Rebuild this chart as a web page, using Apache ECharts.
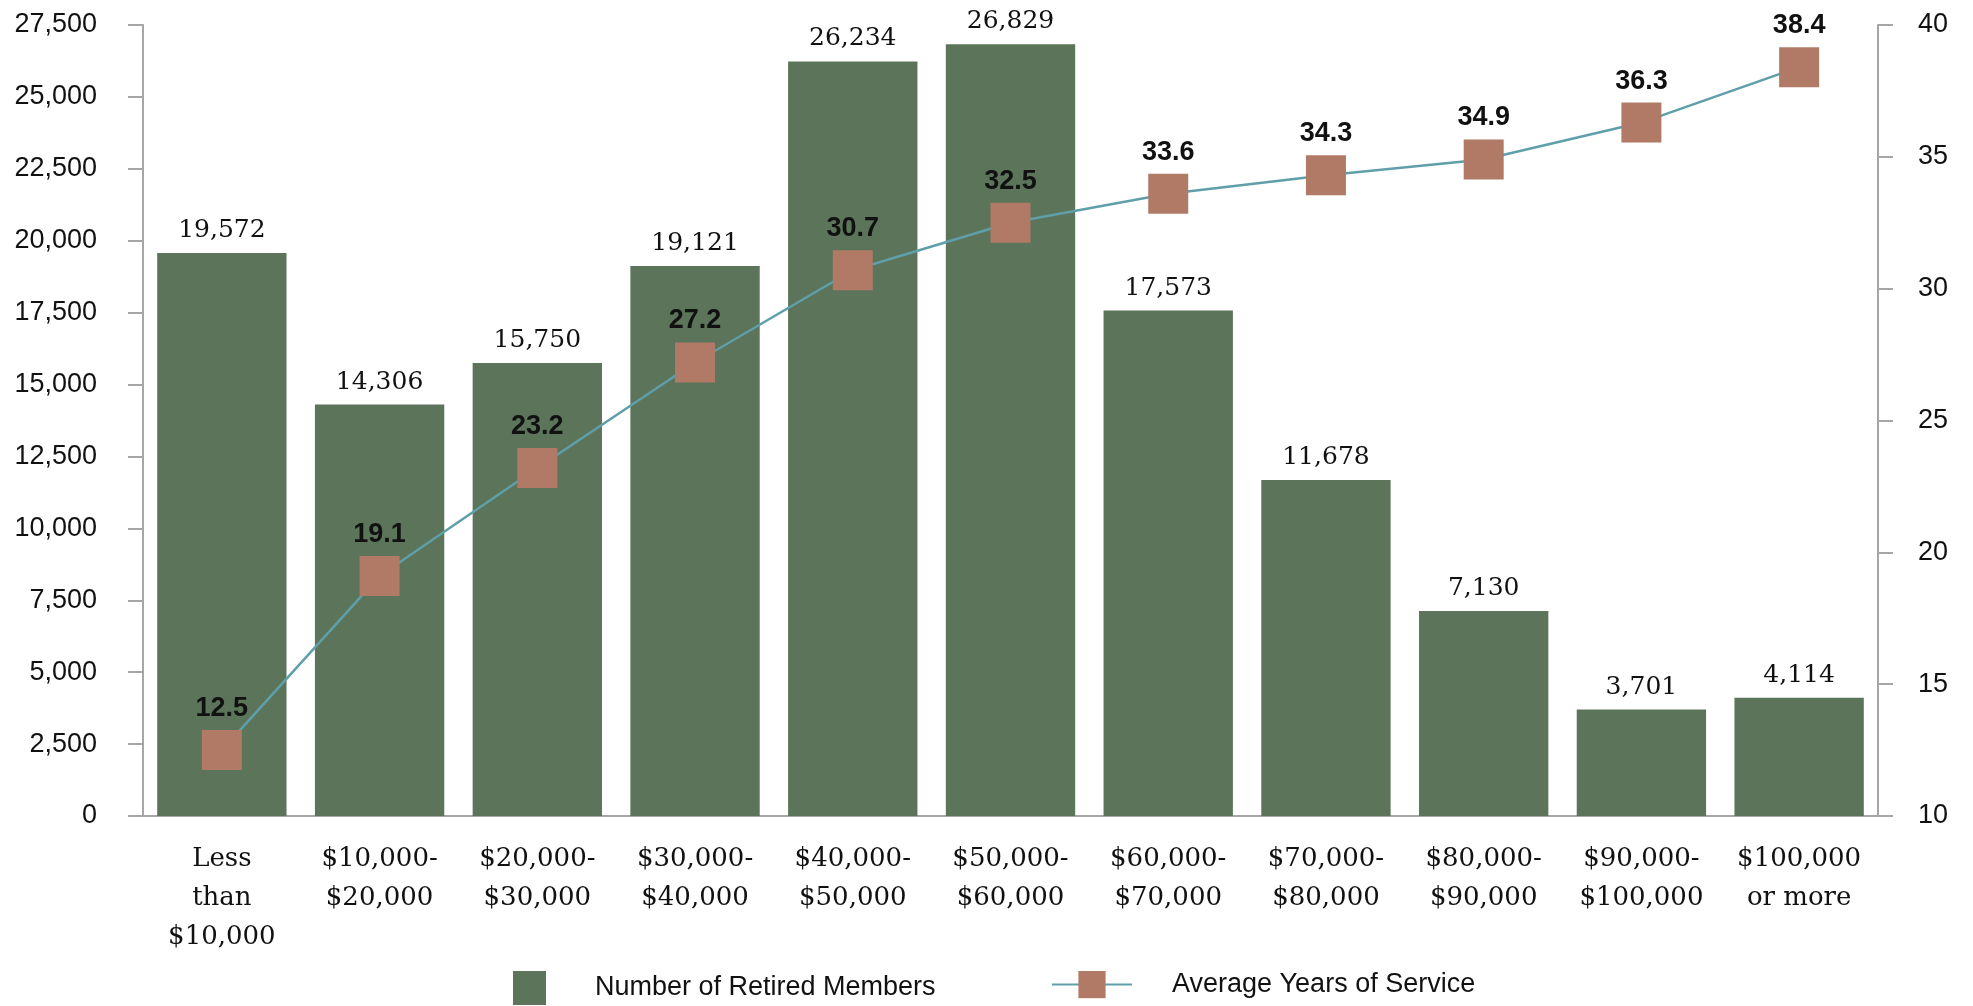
<!DOCTYPE html>
<html>
<head>
<meta charset="utf-8">
<script src="https://cdn.jsdelivr.net/npm/echarts@6/dist/echarts.min.js"></script>
<style>html,body{margin:0;padding:0;background:#fff;}#c{width:1973px;height:1006px;}</style>
</head>
<body>
<div id="c"></div>
<script>
var categories = ["Less\nthan\n$10,000", "$10,000-\n$20,000", "$20,000-\n$30,000", "$30,000-\n$40,000", "$40,000-\n$50,000", "$50,000-\n$60,000", "$60,000-\n$70,000", "$70,000-\n$80,000", "$80,000-\n$90,000", "$90,000-\n$100,000", "$100,000\nor more"];
var retiredMembers = [19572, 14306, 15750, 19121, 26234, 26829, 17573, 11678, 7130, 3701, 4114];
var avgYears = [12.5, 19.1, 23.2, 27.2, 30.7, 32.5, 33.6, 34.3, 34.9, 36.3, 38.4];

var sans = "'Liberation Sans', Arial, sans-serif";
var serif = "'DejaVu Serif', Georgia, serif";
var axisColor = '#a6a6a6';

var chart = echarts.init(document.getElementById('c'));
chart.setOption({
  animation: false,
  backgroundColor: '#fff',
  grid: { left: 143, right: 95, top: 25, bottom: 190 },
  legend: [
    {
      data: [{ name: 'Number of Retired Members', icon: 'rect' }],
      left: 508, top: 966,
      itemWidth: 33, itemHeight: 34,
      textStyle: { fontFamily: sans, fontSize: 27, color: '#111', padding: [0, 0, 0, 44] }
    },
    {
      data: ['Average Years of Service'],
      left: 1046, top: 966,
      itemWidth: 80, itemHeight: 34,
      textStyle: { fontFamily: sans, fontSize: 27, color: '#111', padding: [0, 0, 0, 35] }
    }
  ],
  xAxis: {
    type: 'category',
    data: categories,
    axisLine: { show: true, lineStyle: { color: axisColor, width: 2 } },
    axisTick: { show: false },
    axisLabel: { fontFamily: serif, fontSize: 26, color: '#111', margin: 24, lineHeight: 39, interval: 0 },
    splitLine: { show: false }
  },
  yAxis: [
    {
      type: 'value', min: 0, max: 27500, interval: 2500,
      axisLine: { show: true, lineStyle: { color: axisColor, width: 2 } },
      axisTick: { show: true, length: 15, lineStyle: { color: axisColor, width: 2 } },
      axisLabel: {
        fontFamily: sans, fontSize: 27, color: '#111', margin: 46,
        formatter: function (v) { return v.toLocaleString('en-US'); }
      },
      splitLine: { show: false }
    },
    {
      type: 'value', min: 10, max: 40, interval: 5, position: 'right',
      axisLine: { show: true, lineStyle: { color: axisColor, width: 2 } },
      axisTick: { show: true, length: 15, lineStyle: { color: axisColor, width: 2 } },
      axisLabel: { fontFamily: sans, fontSize: 27, color: '#111', margin: 40 },
      splitLine: { show: false }
    }
  ],
  series: [
    {
      name: 'Number of Retired Members',
      type: 'bar',
      data: retiredMembers,
      yAxisIndex: 0,
      barCategoryGap: '18%',
      itemStyle: { color: '#5b745a' },
      label: {
        show: true, position: 'top', distance: 10,
        fontFamily: serif, fontSize: 25, color: '#111',
        formatter: function (p) { return p.value.toLocaleString('en-US'); }
      }
    },
    {
      name: 'Average Years of Service',
      type: 'line',
      data: avgYears,
      yAxisIndex: 1,
      symbol: 'rect',
      symbolSize: 40,
      lineStyle: { color: '#5f9fa9', width: 2.5 },
      itemStyle: { color: '#b07a66' },
      label: {
        show: true, position: 'top', distance: 8,
        fontFamily: sans, fontSize: 27, fontWeight: 'bold', color: '#111',
        formatter: function (p) { return p.value.toFixed(1); }
      },
      z: 5
    }
  ]
});
</script>
</body>
</html>
